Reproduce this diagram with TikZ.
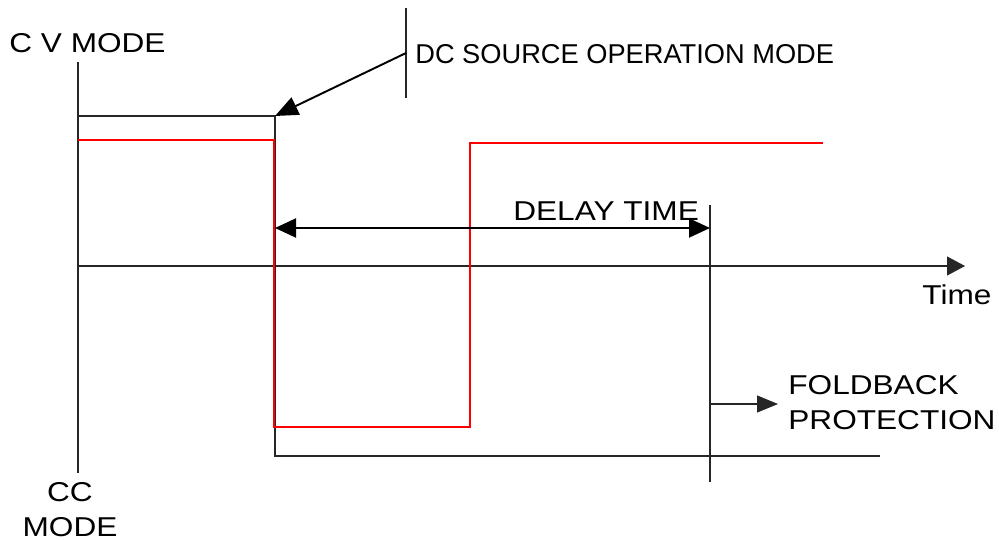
\documentclass[tikz,border=0pt]{standalone}
\usepackage{fontspec}
\setmainfont{Liberation Sans}
\newfontfamily\widefont[FakeStretch=1.16]{Liberation Sans}
\usetikzlibrary{arrows.meta}

\begin{document}
\begin{tikzpicture}[
    x=0.2mm, y=-0.2mm,
    lbl/.style={inner sep=0pt, font=\widefont\fontsize{15.5}{19.8}\selectfont},
    narrowlbl/.style={inner sep=0pt, font=\fontsize{15.5}{19.8}\selectfont},
    thinline/.style={line width=0.6pt, draw=black!85},
    redline/.style={line width=0.6pt, draw=red},
    arr/.style={-{Triangle[length=4.6mm, width=3.8mm]}, line width=1.1pt, draw=black}
]
    \useasboundingbox (0,0) rectangle (999,539);

    % labels
    \node[lbl, anchor=base west] (cv) at (9,52) {C V MODE};
    \node[narrowlbl, anchor=base west] (dcmode) at (415,63) {DC SOURCE OPERATION MODE};
    \node[lbl, anchor=base west] (delay) at (513,220) {DELAY TIME};
    \node[lbl, anchor=base west] (time) at (922,304) {Time};
    \node[lbl, anchor=north west, align=left] (fold) at (788,375) {FOLDBACK\\PROTECTION};
    \node[lbl, anchor=north, align=center] (cc) at (70,482) {CC\\MODE};

    % axes
    \coordinate (ytop) at (78,62);
    \coordinate (ybot) at (78,473);
    \coordinate (t0) at (78,266);
    \coordinate (tend) at (965,266);
    \draw[thinline] (ytop) -- (ybot);
    \draw[thinline, -{Triangle[length=3.6mm, width=3.8mm]}] (t0) -- (tend);

    % operation mode (black)
    \coordinate (b0) at (78,116);
    \coordinate (b1) at (275,116);
    \coordinate (b2) at (275,456);
    \coordinate (b3) at (880,456);
    \draw[thinline] (b0) -- (b1) -- (b2) -- (b3);

    % output (red)
    \coordinate (r0) at (78,140);
    \coordinate (r1) at (274,140);
    \coordinate (r2) at (274,427);
    \coordinate (r3) at (470,427);
    \coordinate (r4) at (470,143);
    \coordinate (r5) at (823,143);
    \draw[redline] (r0) -- (r1) -- (r2) -- (r3) -- (r4) -- (r5);

    % markers
    \coordinate (m0) at (406,8);
    \coordinate (m1) at (406,98);
    \coordinate (mp) at (406,53);
    \draw[thinline] (m0) -- (m1);
    \draw[arr] (mp) -- (b1);

    \coordinate (d0) at (710,205);
    \coordinate (d1) at (710,482);
    \coordinate (dl) at (275,228);
    \coordinate (dr) at (710,228);
    \coordinate (fp) at (710,404);
    \coordinate (fa) at (778,404);
    \draw[thinline] (d0) -- (d1);
    \draw[arr, {Triangle[length=4.2mm, width=3.8mm]}-{Triangle[length=4.2mm, width=3.8mm]}] (dl) -- (dr);
    \draw[thinline, -{Triangle[length=4.2mm, width=3.4mm]}] (fp) -- (fa);
\end{tikzpicture}
\end{document}
